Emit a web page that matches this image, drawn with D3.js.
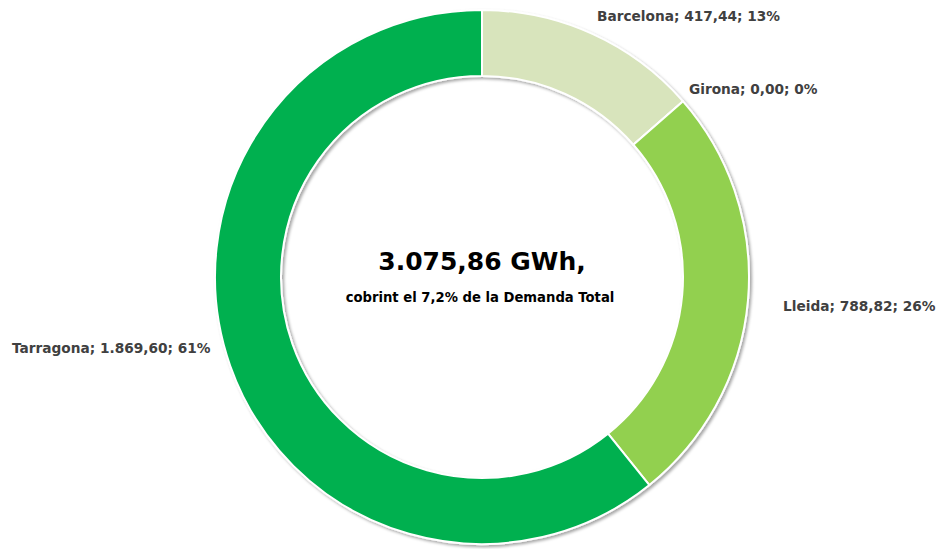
<!DOCTYPE html>
<html>
<head>
<meta charset="utf-8">
<script src="https://cdn.jsdelivr.net/npm/d3@7"></script>
<style>
  body { margin: 0; background: #fff; }
  text { font-family: "DejaVu Sans", sans-serif; font-weight: bold; }
</style>
</head>
<body>
<div id="chart-area"></div>
<script>
// data
const provinces = ["Barcelona", "Girona", "Lleida", "Tarragona"];
const energy = [417.44, 0.00, 788.82, 1869.60];
const percents = [13, 0, 26, 61];
const colors = ["#D8E4BC", "#C4D79B", "#92D050", "#00B050"];
const totalLabel = "3.075,86 GWh,";
const subLabel = "cobrint el 7,2% de la Demanda Total";

// label layout (left edge x, middle y)
const labelPos = [
  { x: 597, y: 16 },
  { x: 689, y: 89 },
  { x: 783, y: 306 },
  { x: 12, y: 348 }
];

const WIDTH = 951, HEIGHT = 549;
const CX = 482, CY = 277;
const R_OUT = 267, R_IN = 201;

const loc = d3.formatLocale({ decimal: ",", thousands: ".", grouping: [3], currency: ["", "€"] });
const fmt = loc.format(",.2f");

const svg = d3.select("#chart-area").append("svg")
  .attr("width", WIDTH)
  .attr("height", HEIGHT);

// soft shadow like the office chart
const defs = svg.append("defs");
defs.append("filter")
  .attr("id", "shadow")
  .attr("x", "-10%").attr("y", "-10%")
  .attr("width", "120%").attr("height", "120%")
  .append("feDropShadow")
  .attr("dx", 2).attr("dy", 2)
  .attr("stdDeviation", 1.5)
  .attr("flood-color", "#000")
  .attr("flood-opacity", 0.35);

const data = provinces.map((p, i) => ({ name: p, value: energy[i], pct: percents[i], color: colors[i], pos: labelPos[i] }));

const pie = d3.pie()
  .value(d => d.value)
  .sort(null);

const arc = d3.arc()
  .innerRadius(R_IN)
  .outerRadius(R_OUT);

const g = svg.append("g")
  .attr("transform", `translate(${CX}, ${CY})`);

g.append("g")
  .attr("filter", "url(#shadow)")
  .selectAll("path")
  .data(pie(data))
  .enter()
  .append("path")
  .attr("d", arc)
  .attr("fill", d => d.data.color)
  .attr("stroke", "#fff")
  .attr("stroke-width", 2)
  .attr("stroke-linejoin", "round");

// slice labels
svg.selectAll(".slice-label")
  .data(data)
  .enter()
  .append("text")
  .attr("class", "slice-label")
  .attr("x", d => d.pos.x)
  .attr("y", d => d.pos.y)
  .attr("dy", "0.35em")
  .attr("font-size", "13.7px")
  .attr("fill", "#404040")
  .text(d => `${d.name}; ${fmt(d.value)}; ${d.pct}%`);

// center text
g.append("text")
  .attr("x", 0)
  .attr("y", -16)
  .attr("dy", "0.35em")
  .attr("text-anchor", "middle")
  .attr("font-size", "25px")
  .attr("fill", "#000")
  .text(totalLabel);

g.append("text")
  .attr("x", -2)
  .attr("y", 20)
  .attr("dy", "0.35em")
  .attr("text-anchor", "middle")
  .attr("font-size", "13.2px")
  .attr("fill", "#000")
  .text(subLabel);
</script>
</body>
</html>
